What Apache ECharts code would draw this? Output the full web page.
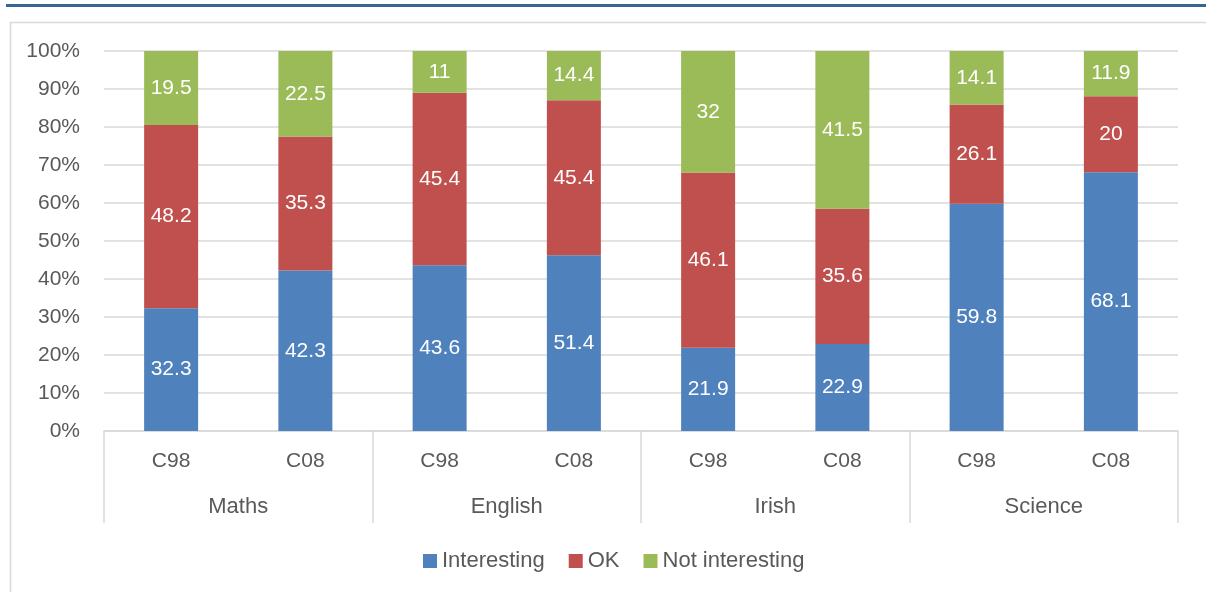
<!DOCTYPE html>
<html>
<head>
<meta charset="utf-8">
<script src="https://cdn.jsdelivr.net/npm/echarts@6/dist/echarts.min.js"></script>
<style>
html,body{margin:0;padding:0;background:#fff;}
#chart{width:1206px;height:592px;}
</style>
</head>
<body>
<div id="chart"></div>
<script>
var groups = ['Maths', 'English', 'Irish', 'Science'];
var subCategories = ['C98', 'C08', 'C98', 'C08', 'C98', 'C08', 'C98', 'C08'];
var seriesNames = ['Interesting', 'OK', 'Not interesting'];
var interesting = [32.3, 42.3, 43.6, 51.4, 21.9, 22.9, 59.8, 68.1];
var ok = [48.2, 35.3, 45.4, 45.4, 46.1, 35.6, 26.1, 20];
var notInteresting = [19.5, 22.5, 11, 14.4, 32, 41.5, 14.1, 11.9];
var yTicks = [0, 10, 20, 30, 40, 50, 60, 70, 80, 90, 100];
var colors = ['#4f81bd', '#c0504d', '#9bbb59'];

var raw = [interesting, ok, notInteresting];
var totals = interesting.map(function (v, i) { return v + ok[i] + notInteresting[i]; });
var FONT = 'Liberation Sans';
var TXT = '#595959';
var GRID = '#d9d9d9';

var series = raw.map(function (arr, s) {
  return {
    name: seriesNames[s],
    type: 'bar',
    stack: 'total',
    barWidth: 54,
    itemStyle: { color: colors[s] },
    label: {
      show: true,
      position: 'inside',
      color: '#ffffff',
      fontFamily: FONT,
      fontSize: 21,
      formatter: function (p) { return String(arr[p.dataIndex]); }
    },
    data: arr.map(function (v, i) { return v / totals[i] * 100; })
  };
});

var chart = echarts.init(document.getElementById('chart'), null, { renderer: 'canvas' });
chart.setOption({
  animation: false,
  color: colors,
  textStyle: { fontFamily: FONT },
  graphic: [
    { type: 'rect', shape: { x: 6, y: 4, width: 1200, height: 3 }, style: { fill: '#3b6496' }, silent: true },
    { type: 'polyline', shape: { points: [[10.5, 592], [10.5, 22.5], [1206, 22.5]] }, style: { stroke: GRID, lineWidth: 1.5, fill: null }, silent: true }
  ],
  grid: { left: 104, right: 28, top: 51, bottom: 161, containLabel: false },
  legend: {
    data: seriesNames,
    left: 418,
    top: 545,
    icon: 'rect',
    itemWidth: 14,
    itemHeight: 14,
    itemGap: 24,
    textStyle: { color: TXT, fontSize: 22, fontFamily: FONT }
  },
  xAxis: [
    {
      type: 'category',
      data: subCategories,
      position: 'bottom',
      axisLine: { show: true, lineStyle: { color: GRID, width: 1.5 } },
      axisTick: { show: false },
      axisLabel: { color: TXT, fontSize: 21, fontFamily: FONT, margin: 20, interval: 0 }
    },
    {
      type: 'category',
      data: groups,
      position: 'bottom',
      gridIndex: 0,
      axisLine: { show: false },
      axisTick: { show: true, length: 92, interval: 0, lineStyle: { color: GRID, width: 1.5 } },
      axisLabel: { color: TXT, fontSize: 22, fontFamily: FONT, margin: 65, interval: 0 }
    }
  ],
  yAxis: {
    type: 'value',
    min: yTicks[0],
    max: yTicks[yTicks.length - 1],
    interval: yTicks[1] - yTicks[0],
    axisLine: { show: false },
    axisTick: { show: false },
    splitLine: { lineStyle: { color: GRID, width: 1.5 } },
    axisLabel: { color: TXT, fontSize: 21, fontFamily: FONT, margin: 24, formatter: '{value}%' }
  },
  series: series
});
</script>
</body>
</html>
